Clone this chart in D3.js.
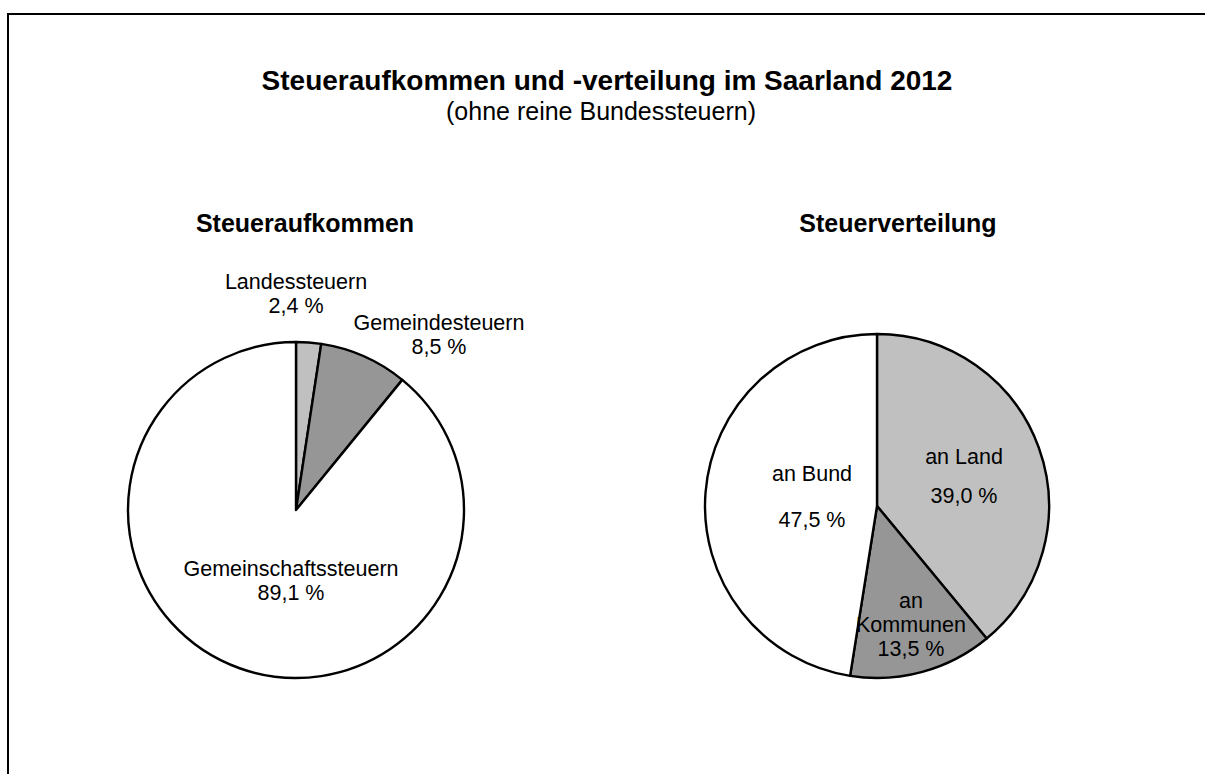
<!doctype html>
<html>
<head>
    <meta charset="utf-8">
    <script src="https://d3js.org/d3.v7.min.js"></script>
    <style>
        body { margin: 0; background: #fff; }
        text { font-family: "Liberation Sans", Arial, sans-serif; fill: #000; }
    </style>
</head>
<body>
    <script>
        // Steueraufkommen (links)
        let aufkommenLabels = ["Landessteuern", "Gemeindesteuern", "Gemeinschaftssteuern"];
        let aufkommenValues = [2.4, 8.5, 89.1];
        // Steuerverteilung (rechts)
        let verteilungLabels = ["an Land", "an Kommunen", "an Bund"];
        let verteilungValues = [39.0, 13.5, 47.5];
        let sliceColors = ["#c0c0c0", "#969696", "#ffffff"];

        let fmt = v => d3.format(".1f")(v).replace(".", ",") + " %";

        let svg = d3.select("body").append("svg")
                    .attr("width", 1205).attr("height", 774);

        // frame (runs off the right and bottom edge)
        svg.append("rect")
            .attr("x", 8).attr("y", 14)
            .attr("width", 1220).attr("height", 800)
            .attr("fill", "none").attr("stroke", "#000").attr("stroke-width", 2);

        svg.append("text").attr("x", 607).attr("y", 90)
            .attr("text-anchor", "middle").style("font-size", "28px").style("font-weight", "bold")
            .text("Steueraufkommen und -verteilung im Saarland 2012");
        svg.append("text").attr("x", 601).attr("y", 120)
            .attr("text-anchor", "middle").style("font-size", "25px")
            .text("(ohne reine Bundessteuern)");

        let pie = d3.pie().sort(null).value(d => d);

        function drawPie(cx, cy, r, values, colors, labelFn) {
            let g = svg.append("g").attr("transform", `translate(${cx},${cy})`);
            let arc = d3.arc().innerRadius(0).outerRadius(r);
            g.selectAll("path").data(pie(values)).enter().append("path")
                .attr("d", arc)
                .attr("fill", (d, i) => colors[i])
                .attr("stroke", "#000").attr("stroke-width", 2.4)
                .attr("stroke-linejoin", "round");
            labelFn(g);
            return g;
        }

        // label positions (relative to pie centre), one entry per text line
        function addLabel(g, x, y, lines, gap) {
            let t = g.append("text").attr("text-anchor", "middle").style("font-size", "21.5px");
            lines.forEach((l, i) => {
                t.append("tspan").attr("x", x).attr("y", y + i * gap).text(l);
            });
        }

        svg.append("text").attr("x", 305).attr("y", 232)
            .attr("text-anchor", "middle").style("font-size", "25px").style("font-weight", "bold")
            .text("Steueraufkommen");
        drawPie(296, 510, 168, aufkommenValues, sliceColors, g => {
            addLabel(g, 0, -221, [aufkommenLabels[0], fmt(aufkommenValues[0])], 24);
            addLabel(g, 143, -180, [aufkommenLabels[1], fmt(aufkommenValues[1])], 24);
            addLabel(g, -5, 66, [aufkommenLabels[2], fmt(aufkommenValues[2])], 24);
        });

        svg.append("text").attr("x", 898).attr("y", 232)
            .attr("text-anchor", "middle").style("font-size", "25px").style("font-weight", "bold")
            .text("Steuerverteilung");
        drawPie(877, 506, 172, verteilungValues, sliceColors, g => {
            addLabel(g, 87, -42, [verteilungLabels[0], fmt(verteilungValues[0])], 39);
            addLabel(g, 34, 102, ["an", "Kommunen", fmt(verteilungValues[1])], 24);
            addLabel(g, -65, -25, [verteilungLabels[2], fmt(verteilungValues[2])], 46);
        });
    </script>
</body>
</html>
